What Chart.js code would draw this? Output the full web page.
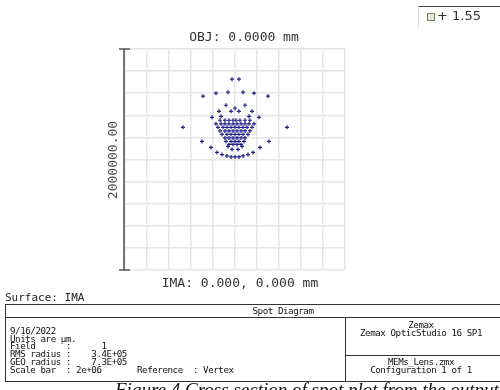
<!DOCTYPE html>
<html><head><meta charset="utf-8">
<script src="https://cdn.jsdelivr.net/npm/chart.js@4"></script>
<style>
html,body{margin:0;padding:0;background:#fff;width:500px;height:390px;overflow:hidden;}
#wrap{position:relative;width:500px;height:390px;overflow:hidden;}
#c{position:absolute;left:0;top:0;}
.t{position:absolute;white-space:pre;color:#333;font-family:"DejaVu Sans Mono",monospace;}
.s{font-size:9.2px;letter-spacing:-0.45px;line-height:7.7px;color:#111;}
</style></head><body>
<div id="wrap">
<canvas id="c" width="500" height="390"></canvas>
<div class="t" style="left:144px;width:200px;text-align:center;top:29px;font-size:13px;">OBJ: 0.0000 mm</div>
<div class="t" style="left:140px;width:200px;text-align:center;top:275px;font-size:13px;">IMA: 0.000, 0.000 mm</div>
<div class="t" style="left:63px;width:100px;text-align:center;top:152px;font-size:13px;line-height:16px;color:#444;transform:rotate(-90deg);">2000000.00</div>
<div class="t" style="left:5px;top:291px;font-size:11px;line-height:13px;color:#222;">Surface: IMA</div>
<div style="position:absolute;left:418px;top:6px;width:100px;height:20px;border-top:1px solid #444;border-left:1px solid #ddd;"></div>
<div style="position:absolute;left:427px;top:13px;width:6px;height:6px;border:1px solid #6a8a5a;background:#dfe8d8;"></div>
<div class="t" style="left:437px;top:8px;font-size:13px;font-family:'DejaVu Sans',sans-serif;">+ 1.55</div>
<div style="position:absolute;left:5px;top:304px;width:520px;height:76px;border:1px solid #333;"></div>
<div style="position:absolute;left:5px;top:317px;width:520px;height:0;border-top:1px solid #333;"></div>
<div style="position:absolute;left:345px;top:317px;width:0;height:64px;border-left:1px solid #333;"></div>
<div style="position:absolute;left:345px;top:355px;width:170px;height:0;border-top:1px solid #333;"></div>
<div class="t s" style="left:180px;width:206px;text-align:center;top:307px;">Spot Diagram</div>
<div class="t s" style="left:10px;top:327px;">9/16/2022
Units are µm.
Field      :      1
RMS radius :    3.4E+05
GEO radius :    7.3E+05
Scale bar  : 2e+06       Reference  : Vertex</div>
<div class="t s" style="left:346px;width:150px;text-align:center;top:321px;">Zemax
Zemax OpticStudio 16 SP1</div>
<div class="t s" style="left:346px;width:150px;text-align:center;top:358px;">MEMs_Lens.zmx
Configuration 1 of 1</div>
<div class="t" style="left:115px;top:379px;font-size:19px;font-family:'Liberation Serif',serif;font-style:italic;color:#111;">Figure 4 Cross section of spot plot from the output</div>
</div>
<script>
// Spot positions in micrometres (x, y) relative to the reference vertex
const spotX = [
  -27000, 36000, -291000, -173000, -64000, 73000, 173000, 300000, -473000, 473000,
  -300000, 309000, -218000, 227000,
  -164000, -118000, -73000, -36000, 0, 36000, 73000, 118000, 164000,
  -82000, 91000, 0, -145000, -36000, 36000, 155000, -209000, 218000, -127000, 127000,
  -136000, -91000, -55000, -18000, 9000, 45000, 91000, 136000,
  -173000, -127000, -91000, -55000, -18000, 18000, 55000, 91000, 127000, 173000,
  -155000, -109000, -73000, -36000, 0, 36000, 73000, 109000, 155000,
  -136000, -91000, -55000, -18000, 18000, 55000, 91000, 136000,
  -118000, -73000, -36000, 0, 36000, 73000, 118000,
  -91000, -55000, -18000, 18000, 55000, 91000,
  -82000, -36000, 0, 36000, 82000,
  -55000, -18000, 18000, 55000,
  -64000, 64000, -27000, 27000
];
const spotY = [
  727000, 727000, 573000, 600000, 609000, 609000, 600000, 573000, 291000, 291000,
  164000, 164000, 109000, 109000,
  64000, 45000, 32000, 23000, 23000, 23000, 32000, 45000, 64000,
  491000, 491000, 464000, 436000, 436000, 436000, 436000, 382000, 382000, 391000, 391000,
  355000, 355000, 355000, 355000, 355000, 355000, 355000, 355000,
  323000, 323000, 323000, 323000, 323000, 323000, 323000, 323000, 323000, 323000,
  291000, 291000, 291000, 291000, 291000, 291000, 291000, 291000, 291000,
  259000, 259000, 259000, 259000, 259000, 259000, 259000, 259000,
  227000, 227000, 227000, 227000, 227000, 227000, 227000,
  195000, 195000, 195000, 195000, 195000, 195000,
  164000, 164000, 164000, 164000, 164000,
  136000, 136000, 136000, 136000,
  118000, 118000, 91000, 91000
];
const gridMin = -1000000;
const gridMax = 1000000;
const gridStep = 200000;

const scaleBar = {
  id: 'scaleBar',
  afterDraw(chart) {
    const a = chart.chartArea, c = chart.ctx;
    c.save();
    c.strokeStyle = '#555';
    c.lineWidth = 1.6;
    const x = a.left - 1;
    c.beginPath();
    c.moveTo(x, a.top); c.lineTo(x, a.bottom);
    c.moveTo(x - 5, a.top); c.lineTo(x + 6, a.top);
    c.moveTo(x - 5, a.bottom); c.lineTo(x + 6, a.bottom);
    c.stroke();
    c.restore();
  }
};

const pts = spotX.map((x, i) => ({x: x, y: spotY[i]}));
const axisOpts = {
  type: 'linear', min: gridMin, max: gridMax,
  ticks: {display: false, stepSize: gridStep},
  grid: {color: '#e6e6e6', lineWidth: 1.5, drawTicks: false},
  border: {display: false}
};
new Chart(document.getElementById('c'), {
  type: 'scatter',
  data: {datasets: [{
    data: pts, pointStyle: 'cross', pointRadius: 2.0,
    borderColor: '#23238e', backgroundColor: '#23238e', borderWidth: 1.2
  }]},
  options: {
    responsive: false, animation: false, events: [],
    layout: {padding: {left: 125, top: 49, right: 155, bottom: 120}},
    plugins: {legend: {display: false}, tooltip: {enabled: false}},
    scales: {x: axisOpts, y: Object.assign({}, axisOpts)}
  },
  plugins: [scaleBar]
});
</script>
</body></html>
